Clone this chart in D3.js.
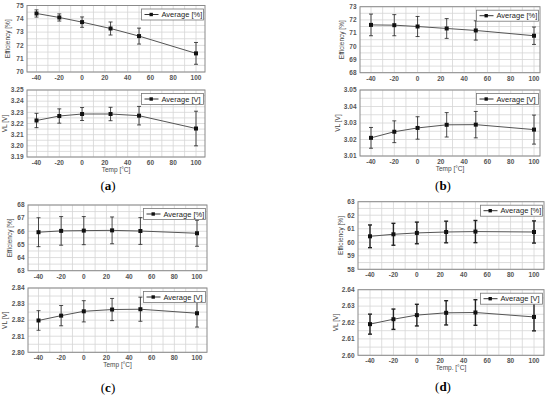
<!DOCTYPE html>
<html>
<head>
<meta charset="utf-8">
<script src="https://cdn.jsdelivr.net/npm/d3@7"></script>
<style>
  body { margin: 0; background: #fff; }
  text { font-family: "Liberation Sans", Arial, sans-serif; }
</style>
</head>
<body>
<div class="chart"></div>
<script>
var svgWidth = 550;
var svgHeight = 399;

// Temperatures (x values, same for every panel)
var temps = [-40, -20, 0, 25, 50, 100];
var xTicks = [-40, -20, 0, 20, 40, 60, 80, 100];

// (a)
var effA = [74.4, 74.1, 73.75, 73.27, 72.7, 71.4];
var effErrA = [0.27, 0.27, 0.39, 0.49, 0.6, 0.82];
var vlA = [3.2227, 3.2267, 3.2285, 3.2285, 3.227, 3.2155];
var vlErrA = [0.0064, 0.0064, 0.0058, 0.006, 0.0083, 0.0155];

// (b)
var effB = [71.62, 71.6, 71.5, 71.35, 71.2, 70.8];
var effErrB = [0.82, 0.8, 0.76, 0.75, 0.73, 0.66];
var vlB = [3.021, 3.0247, 3.027, 3.0289, 3.029, 3.026];
var vlErrB = [0.0063, 0.0066, 0.0068, 0.0074, 0.008, 0.0088];

// (c)
var effC = [65.93, 66.03, 66.05, 66.07, 66.02, 65.85];
var effErrC = [1.1, 1.09, 1.07, 1.02, 1.02, 0.99];
var vlC = [2.8198, 2.8228, 2.8255, 2.8266, 2.8268, 2.8243];
var vlErrC = [0.0061, 0.0063, 0.0066, 0.0069, 0.0075, 0.0086];

// (d)
var effD = [60.44, 60.59, 60.69, 60.76, 60.79, 60.76];
var effErrD = [0.84, 0.81, 0.8, 0.8, 0.82, 0.82];
var vlD = [2.619, 2.622, 2.6245, 2.6259, 2.6261, 2.6234];
var vlErrD = [0.0061, 0.0062, 0.0066, 0.0074, 0.0078, 0.0085];

// y axis ranges and ticks
var effDomA = [70, 75], effDomB = [68, 73], effDomC = [63, 68], effDomD = [58, 63];
var vlTicksA = [3.19, 3.20, 3.21, 3.22, 3.23, 3.24, 3.25];
var vlTicksB = [3.01, 3.02, 3.03, 3.04, 3.05];
var vlTicksC = [2.80, 2.81, 2.82, 2.83, 2.84];
var vlTicksD = [2.60, 2.61, 2.62, 2.63, 2.64];

var svg = d3.select(".chart")
  .append("svg")
  .attr("width", svgWidth)
  .attr("height", svgHeight);

// draws one small chart
// box: left/right/top/bottom of plot area, xa/xb: pixel of -40 and 100
function drawChart(box, yTicks, yFmt, values, errs, legendText, yTitle, xTitle, titleGap, bold) {
  var g = svg.append("g");

  // x scale from the two tick positions, extended to the plot edges
  var k = (box.xb - box.xa) / 140;
  var xScale = d3.scaleLinear()
    .domain([-40 - (box.xa - box.left) / k, 100 + (box.right - box.xb) / k])
    .range([box.left, box.right]);

  var yMin = d3.min(yTicks), yMax = d3.max(yTicks);
  var yScale = d3.scaleLinear()
    .domain([yMin, yMax])
    .range([box.bottom, box.top]);

  var step = yTicks[1] - yTicks[0];

  // grid: vertical every 10 degrees, horizontal every half tick
  var vGrid = d3.range(-40, 101, 10);
  var hGrid = d3.range(0, (yTicks.length - 1) * 2 + 1).map(i => yMin + i * step / 2);

  g.selectAll(".vgrid")
    .data(vGrid)
    .enter()
    .append("line")
    .attr("x1", d => xScale(d))
    .attr("x2", d => xScale(d))
    .attr("y1", box.top)
    .attr("y2", box.bottom)
    .attr("stroke", "#d6d6d6")
    .attr("stroke-width", 0.8);

  g.selectAll(".hgrid")
    .data(hGrid)
    .enter()
    .append("line")
    .attr("x1", box.left)
    .attr("x2", box.right)
    .attr("y1", d => yScale(d))
    .attr("y2", d => yScale(d))
    .attr("stroke", "#d6d6d6")
    .attr("stroke-width", 0.8);

  // plot border
  g.append("rect")
    .attr("x", box.left)
    .attr("y", box.top)
    .attr("width", box.right - box.left)
    .attr("height", box.bottom - box.top)
    .attr("fill", "none")
    .attr("stroke", "#8a8a8a")
    .attr("stroke-width", 1);

  // tick labels
  g.selectAll(".xtick")
    .data(xTicks)
    .enter()
    .append("text")
    .attr("x", d => xScale(d))
    .attr("y", box.bottom + 8)
    .attr("text-anchor", "middle")
    .attr("font-size", "6.5px")
    .attr("font-weight", "bold")
    .attr("fill", "#555")
    .text(d => d);

  g.selectAll(".ytick")
    .data(yTicks)
    .enter()
    .append("text")
    .attr("x", box.left - 3.5)
    .attr("y", d => yScale(d) + 2.3)
    .attr("text-anchor", "end")
    .attr("font-size", "6.5px")
    .attr("font-weight", "bold")
    .attr("fill", "#555")
    .text(d => yFmt(d));

  // y title
  g.append("text")
    .attr("transform", `translate(${box.left - titleGap}, ${(box.top + box.bottom) / 2}) rotate(-90)`)
    .attr("text-anchor", "middle")
    .attr("font-size", "6.5px")
    .attr("fill", "#444")
    .text(yTitle);

  if (xTitle) {
    g.append("text")
      .attr("x", (box.left + box.right) / 2)
      .attr("y", box.bottom + 14.5)
      .attr("text-anchor", "middle")
      .attr("font-size", "6.5px")
      .attr("fill", "#444")
      .text(xTitle);
  }

  var line = d3.line()
    .x((d, i) => xScale(temps[i]))
    .y(d => yScale(d));

  g.append("path")
    .datum(values)
    .attr("d", line)
    .attr("fill", "none")
    .attr("stroke", "#555")
    .attr("stroke-width", 1);

  // error bars
  var ebWidth = bold ? 1.4 : 0.8;
  var bars = g.selectAll(".err")
    .data(values)
    .enter()
    .append("g");

  bars.append("line")
    .attr("x1", (d, i) => xScale(temps[i]))
    .attr("x2", (d, i) => xScale(temps[i]))
    .attr("y1", (d, i) => yScale(d + errs[i]))
    .attr("y2", (d, i) => yScale(d - errs[i]))
    .attr("stroke", "#222")
    .attr("stroke-width", ebWidth);

  [1, -1].forEach(function(s) {
    bars.append("line")
      .attr("x1", (d, i) => xScale(temps[i]) - 2)
      .attr("x2", (d, i) => xScale(temps[i]) + 2)
      .attr("y1", (d, i) => yScale(d + s * errs[i]))
      .attr("y2", (d, i) => yScale(d + s * errs[i]))
      .attr("stroke", "#222")
      .attr("stroke-width", ebWidth);
  });

  g.selectAll(".pt")
    .data(values)
    .enter()
    .append("rect")
    .attr("x", (d, i) => xScale(temps[i]) - 2)
    .attr("y", d => yScale(d) - 2)
    .attr("width", 4)
    .attr("height", 4)
    .attr("fill", "#111");

  // legend
  var lw = 62, lh = 11;
  var lx = box.right - lw - 1.5, ly = box.top + 3.5;
  g.append("rect")
    .attr("x", lx)
    .attr("y", ly)
    .attr("width", lw)
    .attr("height", lh)
    .attr("fill", "#fff")
    .attr("stroke", "#777")
    .attr("stroke-width", 0.8);
  g.append("line")
    .attr("x1", lx + 3)
    .attr("x2", lx + 17)
    .attr("y1", ly + lh / 2)
    .attr("y2", ly + lh / 2)
    .attr("stroke", "#333")
    .attr("stroke-width", 1);
  g.append("rect")
    .attr("x", lx + 8)
    .attr("y", ly + lh / 2 - 1.7)
    .attr("width", 3.4)
    .attr("height", 3.4)
    .attr("fill", "#111");
  g.append("text")
    .attr("x", lx + 20)
    .attr("y", ly + lh / 2 + 2.6)
    .attr("font-size", "7.5px")
    .attr("fill", "#222")
    .text(legendText);
}

var fmt0 = d3.format("d");
var fmt2 = d3.format(".2f");

function effTicks(dom) { return d3.range(dom[0], dom[1] + 1); }

// (a)
drawChart({left: 27, right: 205, top: 5.5, bottom: 72, xa: 36.5, xb: 196},
  effTicks(effDomA), fmt0, effA, effErrA, "Average [%]", "Efficiency [%]", null, 17, false);
drawChart({left: 27, right: 205, top: 90, bottom: 157, xa: 36.5, xb: 196},
  vlTicksA, fmt2, vlA, vlErrA, "Average [V]", "VL [V]", "Temp [°C]", 20.5, false);

// (b)
drawChart({left: 360, right: 540, top: 6.7, bottom: 72.7, xa: 371, xb: 534},
  effTicks(effDomB), fmt0, effB, effErrB, "Average [%]", "Efficiency [%]", null, 16, false);
drawChart({left: 360, right: 540, top: 90, bottom: 156, xa: 371, xb: 534},
  vlTicksB, fmt2, vlB, vlErrB, "Average [V]", "VL [V]", "Temp [°C]", 20, false);

// (c)
drawChart({left: 28, right: 207, top: 205, bottom: 270.7, xa: 38.5, xb: 197},
  effTicks(effDomC), fmt0, effC, effErrC, "Average [%]", "Efficiency [%]", null, 16, false);
drawChart({left: 28, right: 207, top: 288, bottom: 352.3, xa: 38.5, xb: 197},
  vlTicksC, fmt2, vlC, vlErrC, "Average [V]", "VL [V]", "Temp [°C]", 21, false);

// (d)
drawChart({left: 358, right: 544, top: 201.7, bottom: 269.3, xa: 370, xb: 534},
  effTicks(effDomD), fmt0, effD, effErrD, "Average [%]", "Efficiency [%]", null, 15, true);
drawChart({left: 358, right: 544, top: 289.7, bottom: 355.3, xa: 370, xb: 534},
  vlTicksD, fmt2, vlD, vlErrD, "Average [V]", "VL [V]", "Temp. [°C]", 20, true);

// panel letters
var panelLabels = ["a", "b", "c", "d"];
var panelPos = [[108, 190], [443, 190], [108, 392], [443, 391]];
svg.selectAll(".plabel")
  .data(panelLabels)
  .enter()
  .append("text")
  .attr("x", (d, i) => panelPos[i][0])
  .attr("y", (d, i) => panelPos[i][1])
  .attr("text-anchor", "middle")
  .attr("font-size", "13px")
  .attr("fill", "#000")
  .style("font-family", "'Liberation Serif', 'Times New Roman', serif")
  .html(d => `(<tspan font-weight="bold">${d}</tspan>)`);
</script>
</body>
</html>
